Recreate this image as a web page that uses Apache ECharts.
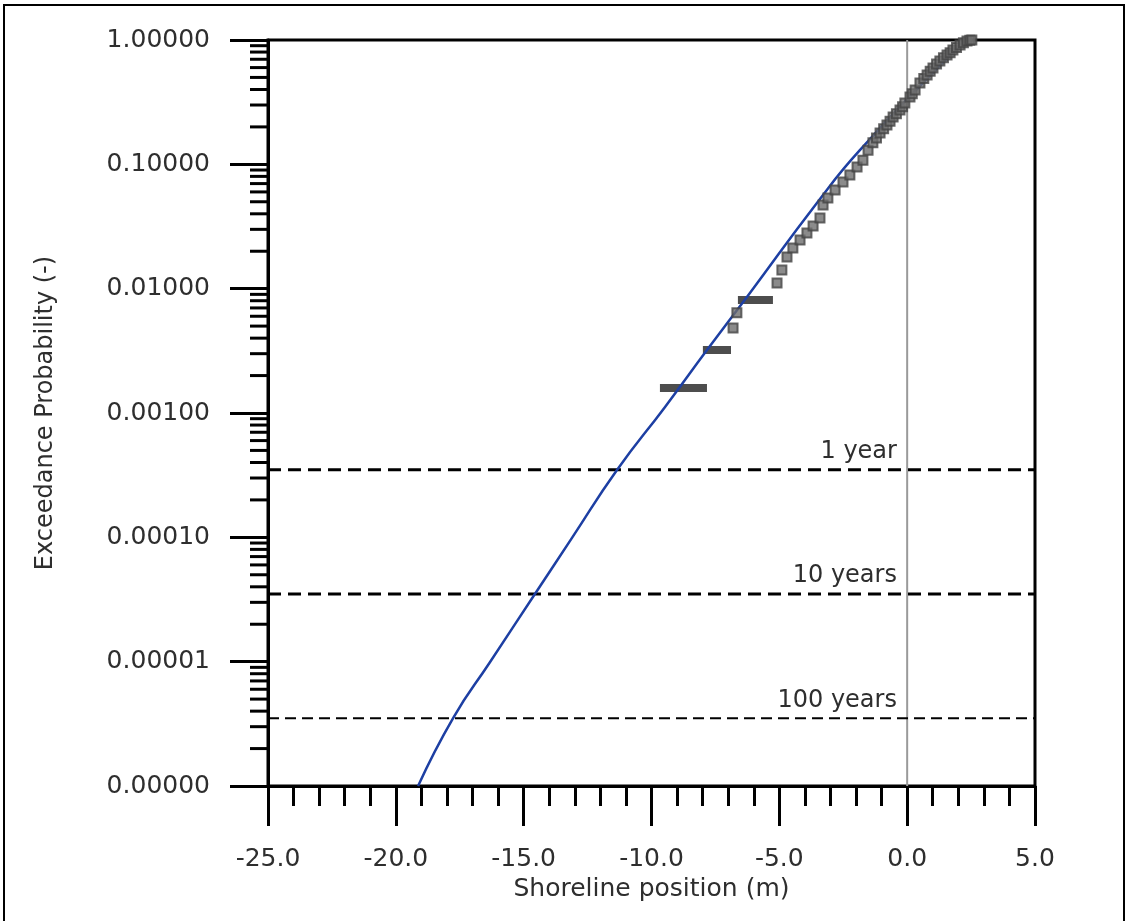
<!DOCTYPE html>
<html>
<head>
<meta charset="utf-8">
<script src="https://cdn.jsdelivr.net/npm/echarts@6/dist/echarts.min.js"></script>
<style>
html,body{margin:0;padding:0;background:#fff;}
#chart{width:1129px;height:921px;}
</style>
</head>
<body>
<div id="chart"></div>
<script>
// ---- data ----
const xTickValues = [-25, -20, -15, -10, -5, 0, 5];
const yDecades = [1e-6, 1e-5, 1e-4, 1e-3, 1e-2, 1e-1, 1];

// fitted distribution (blue line): [shoreline position, exceedance probability]
const fitCurve = [
  [-19.13, 1.0e-6], [-17.76, 3.52e-6], [-16.32, 9.9e-6], [-14.56, 3.50e-5],
  [-13.11, 9.9e-5], [-11.35, 3.48e-4], [-9.47, 1.12e-3], [-7.83, 3.21e-3],
  [-6.15, 9.23e-3], [-3.53, 0.0489], [-1.85, 0.130], [2.26, 1.0]
];

// empirical points shown as horizontal bars: [x from, x to, probability]
const obsBars = [
  [-9.67, -7.83, 0.00159],
  [-7.99, -6.89, 0.00321],
  [-6.62, -5.25, 0.0081]
];

// empirical points (gray squares)
const obsPoints = [
  [-6.81, 0.00483], [-6.66, 0.0064], [-5.09, 0.0111], [-4.90, 0.0141],
  [-4.70, 0.0180], [-4.47, 0.0212], [-4.19, 0.0246], [-3.92, 0.0280],
  [-3.68, 0.0319], [-3.41, 0.0370], [-3.29, 0.0471], [-3.10, 0.0536],
  [-2.82, 0.0622], [-2.51, 0.0721], [-2.24, 0.0820], [-1.96, 0.0952],
  [-1.73, 0.108], [-1.53, 0.130], [-1.34, 0.149], [-1.20, 0.163],
  [-1.06, 0.179], [-0.92, 0.193], [-0.79, 0.207], [-0.67, 0.222],
  [-0.55, 0.240], [-0.42, 0.255], [-0.28, 0.273], [-0.18, 0.290],
  [-0.09, 0.311], [0.11, 0.348], [0.20, 0.370], [0.31, 0.396],
  [0.50, 0.451], [0.65, 0.490], [0.78, 0.523], [0.90, 0.560],
  [1.01, 0.596], [1.15, 0.640], [1.28, 0.678], [1.42, 0.720],
  [1.56, 0.757], [1.68, 0.790], [1.79, 0.831], [1.93, 0.870],
  [2.07, 0.912], [2.20, 0.950], [2.34, 0.980], [2.45, 0.995], [2.53, 1.0]
];

// return-period levels
const returnLabels = ['1 year', '10 years', '100 years'];
const returnProbs = [3.5e-4, 3.5e-5, 3.5e-6];
const returnWidths = [3, 3, 2];
const labelAnchorX = -0.4;

// minor log ticks (2..9 within each decade)
const minorMultipliers = [2, 3, 4, 5, 6, 7, 8, 9];

const FONT = 'DejaVu Sans';
const TXT = '#2e2e2e';

const minorTickData = [];
for (let d = 0; d < yDecades.length - 1; d++) {
  minorMultipliers.forEach(m => minorTickData.push([-25, yDecades[d] * m]));
}

const series = [];

// zero line
series.push({
  type: 'line', data: [[0, 1e-6], [0, 1]], symbol: 'none', silent: true,
  lineStyle: { color: '#9a9a9a', width: 2 }, z: 1
});

// return period dashed lines
returnProbs.forEach((p, i) => {
  series.push({
    type: 'line', data: [[-25, p], [5, p]], symbol: 'none', silent: true,
    lineStyle: { color: '#000', width: returnWidths[i], type: i < 2 ? [13, 7] : [11, 6] }, z: 2
  });
});

// return period labels
series.push({
  type: 'scatter', symbolSize: 0, silent: true,
  itemStyle: { color: '#000', opacity: 1 },
  data: returnProbs.map((p, i) => [labelAnchorX, p, returnLabels[i]]),
  label: {
    show: true, formatter: d => d.value[2], position: [0, -6],
    align: 'right', verticalAlign: 'bottom',
    fontFamily: FONT, fontSize: 24, color: TXT
  }, z: 3
});

// bars of equal probability
series.push({
  type: 'custom', clip: false, silent: true, z: 4,
  encode: { x: [0, 1], y: 2 },
  data: obsBars,
  renderItem: (params, api) => {
    const a = api.coord([api.value(0), api.value(2)]);
    const b = api.coord([api.value(1), api.value(2)]);
    return { type: 'rect', shape: { x: a[0], y: a[1] - 4, width: b[0] - a[0], height: 8 },
      style: { fill: '#4d4d4d' } };
  }
});

// fitted line
series.push({
  type: 'line', data: fitCurve, symbol: 'none', smooth: 0.5, silent: true,
  lineStyle: { color: '#1d3fa3', width: 2.5 }, z: 5
});

// empirical points
series.push({
  type: 'scatter', data: obsPoints, symbol: 'rect', symbolSize: 9, silent: true,
  itemStyle: { color: '#6e6e6e', borderColor: '#444', borderWidth: 2 }, z: 6
});

// minor y ticks
series.push({
  type: 'custom', clip: false, silent: true, z: 10,
  encode: { x: 0, y: 1 },
  data: minorTickData,
  renderItem: (params, api) => {
    const c = api.coord([api.value(0), api.value(1)]);
    return { type: 'line', shape: { x1: c[0] - 18, y1: c[1], x2: c[0], y2: c[1] },
      style: { stroke: '#000', lineWidth: 3 } };
  }
});

const option = {
  animation: false,
  backgroundColor: '#fff',
  graphic: [{
    type: 'rect', z: 100, silent: true,
    shape: { x: 4, y: 5, width: 1120, height: 940 },
    style: { fill: 'none', stroke: '#000', lineWidth: 2 }
  }],
  grid: { left: 268, top: 40, right: 94, bottom: 135, show: true,
    borderColor: '#000', borderWidth: 3, backgroundColor: 'transparent' },
  xAxis: {
    type: 'value', min: -25, max: 5, interval: 5,
    name: 'Shoreline position (m)', nameLocation: 'middle', nameGap: 90,
    nameTextStyle: { fontFamily: FONT, fontSize: 25, color: TXT },
    axisLine: { show: true, onZero: false, lineStyle: { color: '#000', width: 3 } },
    axisTick: { show: true, length: 40, lineStyle: { color: '#000', width: 3 } },
    minorTick: { show: true, splitNumber: 5, length: 20, lineStyle: { color: '#000', width: 3 } },
    axisLabel: { margin: 61, fontFamily: FONT, fontSize: 25, color: TXT,
      formatter: v => xTickValues.includes(v) ? v.toFixed(1) : '' },
    splitLine: { show: false }
  },
  yAxis: {
    type: 'log', logBase: 10, min: 1e-6, max: 1, splitNumber: 6,
    name: 'Exceedance Probability (-)', nameLocation: 'middle', nameGap: 210,
    nameTextStyle: { fontFamily: FONT, fontSize: 24, color: TXT },
    axisLine: { show: true, onZero: false, lineStyle: { color: '#000', width: 3 } },
    axisTick: { show: true, length: 38, lineStyle: { color: '#000', width: 3 } },
    axisLabel: { margin: 58, fontFamily: FONT, fontSize: 25, color: TXT,
      formatter: v => Number(v).toFixed(5) },
    splitLine: { show: false }
  },
  series: series
};

const chart = echarts.init(document.getElementById('chart'), null, { renderer: 'canvas' });
chart.setOption(option);
</script>
</body>
</html>
